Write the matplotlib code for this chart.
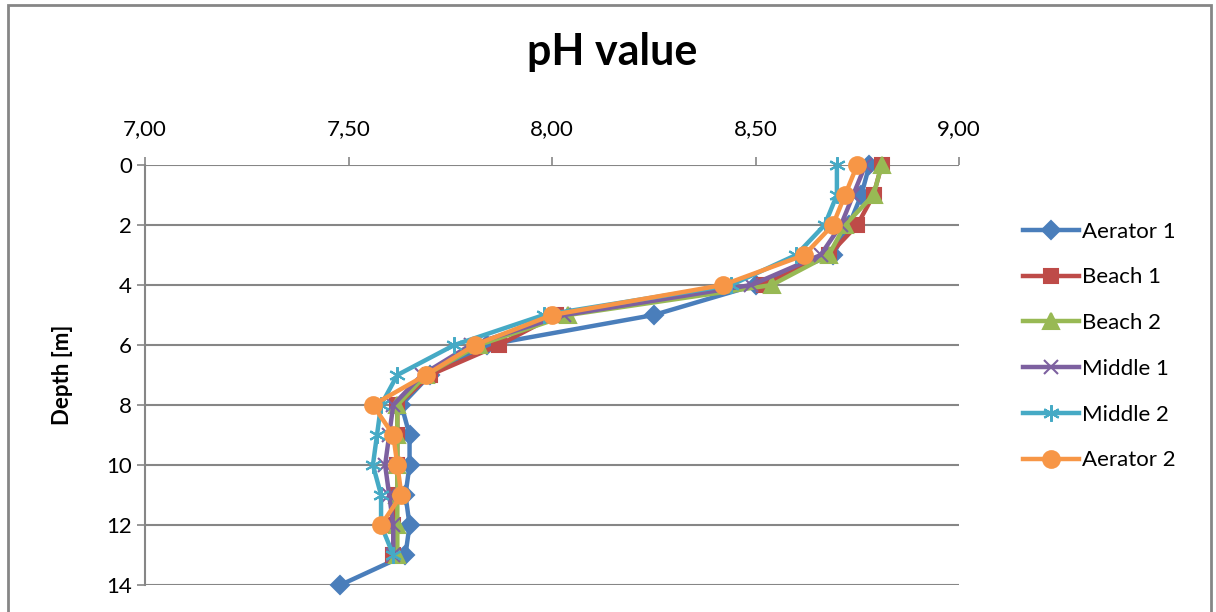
import matplotlib.pyplot as plt
from matplotlib.patches import Rectangle
from matplotlib.ticker import FuncFormatter

plt.rcParams['font.family'] = ['Lato', 'DejaVu Sans']

depth = list(range(15))

aerator1 = [8.78, 8.76, 8.73, 8.69, 8.50, 8.25, 7.84, 7.70, 7.63, 7.65, 7.65, 7.64, 7.65, 7.64, 7.48]
beach1 = [8.81, 8.79, 8.75, 8.68, 8.52, 8.01, 7.87, 7.70, 7.62, 7.62, 7.62, 7.62, 7.61, 7.61]
beach2 = [8.81, 8.79, 8.72, 8.68, 8.54, 8.04, 7.82, 7.69, 7.62, 7.62, 7.62, 7.62, 7.62, 7.62]
middle1 = [8.77, 8.74, 8.71, 8.66, 8.49, 8.03, 7.80, 7.68, 7.61, 7.60, 7.59, 7.60, 7.61, 7.61]
middle2 = [8.70, 8.70, 8.67, 8.60, 8.44, 7.98, 7.76, 7.62, 7.58, 7.57, 7.56, 7.58, 7.58, 7.61]
aerator2 = [8.75, 8.72, 8.69, 8.62, 8.42, 8.00, 7.81, 7.69, 7.56, 7.61, 7.62, 7.63, 7.58]

series = [
    ("Aerator 1", aerator1, "#4A7EBB", "D", 9),
    ("Beach 1", beach1, "#BE4B48", "s", 10),
    ("Beach 2", beach2, "#98B954", "^", 11),
    ("Middle 1", middle1, "#7D60A0", "x", 10),
    ("Middle 2", middle2, "#46AAC5", (6, 2, 0), 12),
    ("Aerator 2", aerator2, "#F79646", "o", 12),
]

fig = plt.figure(figsize=(12.16, 6.12), dpi=100)
ax = fig.add_axes([145 / 1216, 1 - 585 / 612, (959 - 145) / 1216, (585 - 165) / 612])

for name, vals, color, marker, ms in series:
    ax.plot(vals, depth[:len(vals)], color=color, lw=3.2, marker=marker, ms=ms,
            mew=1.5, mec=color, mfc=color, label=name, clip_on=False)

ax.set_xlim(7, 9)
ax.set_ylim(14, 0)
ax.set_xticks([7, 7.5, 8, 8.5, 9])
ax.set_yticks(range(0, 15, 2))
ax.xaxis.set_major_formatter(FuncFormatter(lambda v, p: f"{v:.2f}".replace('.', ',')))
ax.xaxis.tick_top()
ax.tick_params(axis='both', labelsize=16, color='#868686', length=6, width=1.2)
ax.tick_params(axis='x', pad=13)
ax.grid(axis='y', color='#868686', lw=1.5)
ax.set_axisbelow(True)
for side in ['right', 'bottom', 'top']:
    ax.spines[side].set_visible(False)
ax.spines['left'].set_color('#868686')
ax.spines['left'].set_linewidth(1.5)

ax.set_ylabel("Depth [m]", fontsize=16, fontweight='bold', labelpad=24)
fig.text(612 / 1216, 1 - 52 / 612, "pH value", ha='center', va='center',
         fontsize=31, fontweight='bold')

ax.legend(loc='center left', bbox_to_anchor=(1.054, 0.569), frameon=False,
          fontsize=16, handlelength=2.5, labelspacing=1.16, handletextpad=0.17)

fig.patches.append(Rectangle((8 / 1216, -0.1), 1203 / 1216, 1.1 - 5 / 612,
                             transform=fig.transFigure, fill=False,
                             edgecolor='#868686', lw=2))

fig.savefig("out.png", dpi=100)
